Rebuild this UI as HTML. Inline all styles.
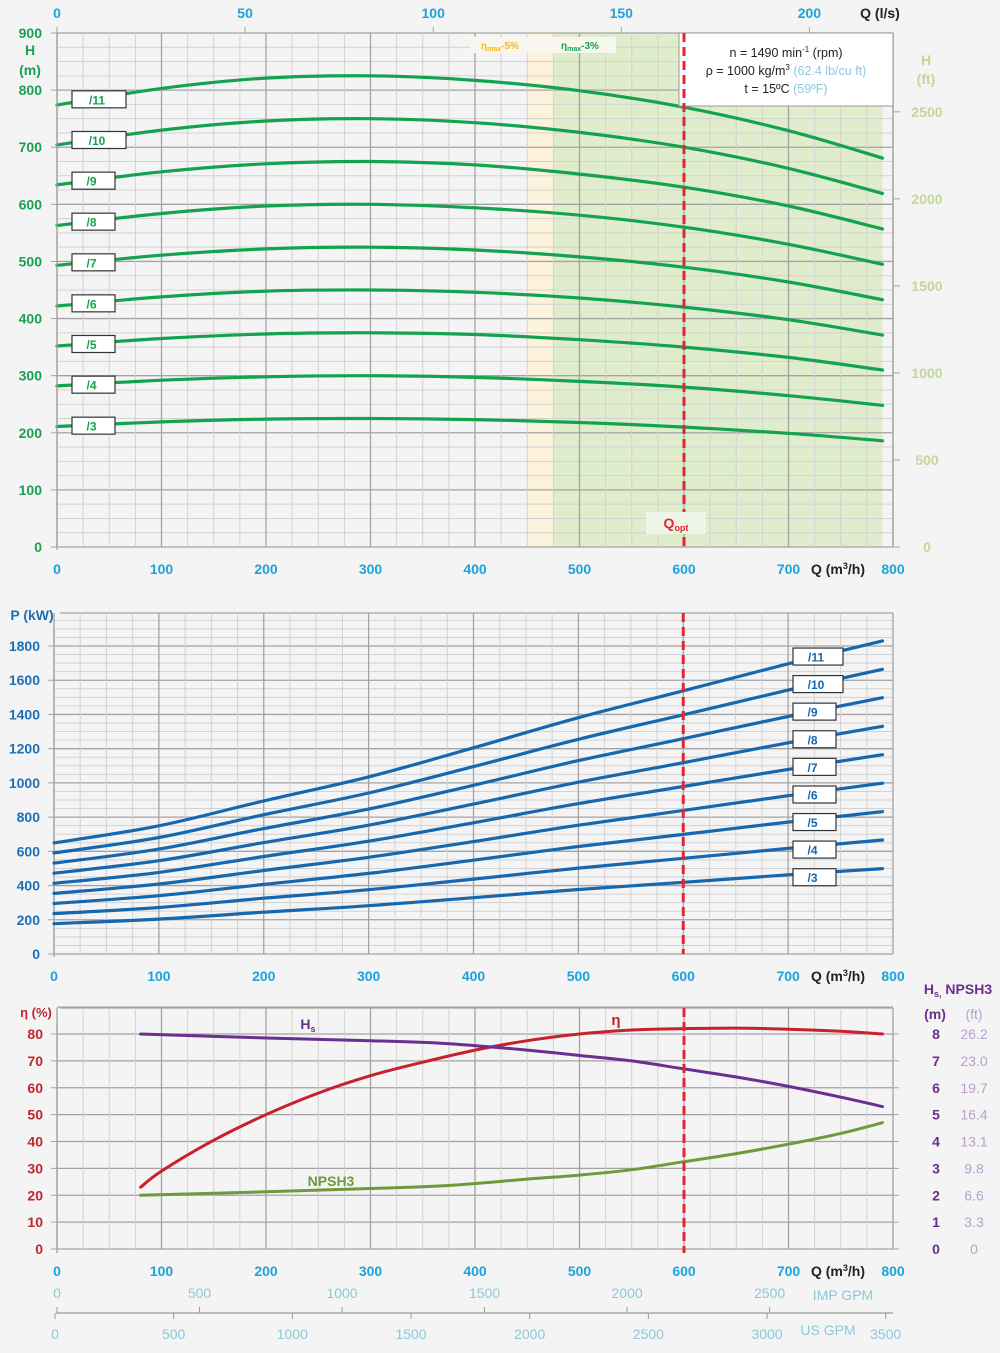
<!DOCTYPE html>
<html><head><meta charset="utf-8">
<style>
html,body{margin:0;padding:0;background:#f4f4f4;}
svg{display:block;font-family:"Liberation Sans",sans-serif;}
</style></head>
<body>
<svg id="c" width="1000" height="1353" viewBox="0 0 1000 1353" xmlns="http://www.w3.org/2000/svg">
<rect x="0" y="0" width="1000" height="1353" fill="#f4f4f4"/>
</svg>
<script>
// ---------- DATA ----------
const qPoints = [0,100,200,300,400,500,600,700,790];
const stages = [3,4,5,6,7,8,9,10,11];
const head3  = [211,219,224,225,223,218,210,199,186];
const head4  = [282,292,298,300,297,290,280,265,248];
const head5  = [352,365,373,375,372,363,350,332,310];
const head6  = [422,438,448,450,446,436,420,398,371];
const head7  = [493,511,522,525,520,508,490,464,433];
const head8  = [563,584,597,600,594,581,560,530,495];
const head9  = [634,657,671,675,669,653,630,597,557];
const head10 = [704,730,746,750,743,726,700,663,619];
const head11 = [774,803,821,825,817,799,770,729,681];
const power3  = [177,204,244,282,329,377,419,463,499];
const power4  = [236,272,326,376,438,502,559,617,666];
const power5  = [295,341,407,471,548,628,699,771,832];
const power6  = [354,409,488,565,657,753,839,925,998];
const power7  = [413,477,570,659,767,879,979,1079,1165];
const power8  = [472,545,651,753,876,1004,1118,1234,1331];
const power9  = [531,613,733,847,986,1130,1258,1388,1498];
const power10 = [590,681,814,941,1095,1255,1398,1542,1664];
const power11 = [649,749,895,1035,1205,1381,1538,1696,1830];
const effQ = [80,100,150,200,250,300,350,400,450,500,550,600,650,700,750,790];
const effVals = [23,29,40.5,50,58,64.5,69.5,74,77.5,80,81.5,82,82.2,81.8,81,80];
const npQ = [80,200,300,370,450,500,550,600,650,700,750,790];
const hsVals = [8.0,7.85,7.75,7.65,7.4,7.2,7.0,6.7,6.4,6.05,5.65,5.3];
const npshVals = [2.0,2.13,2.25,2.35,2.6,2.75,2.95,3.25,3.55,3.9,4.3,4.7];
const qTicks = [0,100,200,300,400,500,600,700,800];
const lsTicks = [0,50,100,150,200];
const hTicks = [0,100,200,300,400,500,600,700,800,900];
const ftTicks = [0,500,1000,1500,2000,2500];
const pTicks = [0,200,400,600,800,1000,1200,1400,1600,1800];
const etaTicks = [0,10,20,30,40,50,60,70,80];
const hsM = ['0','1','2','3','4','5','6','7','8'];
const hsFt = ['0','3.3','6.6','9.8','13.1','16.4','19.7','23.0','26.2'];
const igpmTicks = [0,500,1000,1500,2000,2500];
const usgpmTicks = [0,500,1000,1500,2000,2500,3000,3500];
const qOpt = 600;
const band5 = [450,475];
const band3 = [475,790];

const heads = [head3,head4,head5,head6,head7,head8,head9,head10,head11];
const powers = [power3,power4,power5,power6,power7,power8,power9,power10,power11];

// ---------- HELPERS ----------
const svg = document.getElementById('c');
const NS = 'http://www.w3.org/2000/svg';
function mk(tag, attrs, parent){
  const e = document.createElementNS(NS, tag);
  for (const k in attrs) e.setAttribute(k, attrs[k]);
  (parent||svg).appendChild(e);
  return e;
}
function txt(x,y,s,fill,size,anchor,parent,weight){
  const t = mk('text',{x:x,y:y,fill:fill,'font-size':size||14,'text-anchor':anchor||'middle','font-weight':weight||'bold'},parent);
  t.textContent = s;
  return t;
}
function smooth(pts){
  let d = 'M'+pts[0][0].toFixed(1)+','+pts[0][1].toFixed(1);
  for (let i=0;i<pts.length-1;i++){
    const p0=pts[Math.max(0,i-1)],p1=pts[i],p2=pts[i+1],p3=pts[Math.min(pts.length-1,i+2)];
    const c1x=p1[0]+(p2[0]-p0[0])/6,c1y=p1[1]+(p2[1]-p0[1])/6;
    const c2x=p2[0]-(p3[0]-p1[0])/6,c2y=p2[1]-(p3[1]-p1[1])/6;
    d+=' C'+c1x.toFixed(1)+','+c1y.toFixed(1)+' '+c2x.toFixed(1)+','+c2y.toFixed(1)+' '+p2[0].toFixed(1)+','+p2[1].toFixed(1);
  }
  return d;
}
function interp(xs,ys,x){
  for(let i=0;i<xs.length-1;i++){ if(x>=xs[i]&&x<=xs[i+1]){const t=(x-xs[i])/(xs[i+1]-xs[i]);return ys[i]+t*(ys[i+1]-ys[i]);} }
  return ys[ys.length-1];
}
function grid(g,x0,x1,y0,y1,sx,yMin,yMax,yMinor,yMajor){
  for(let q=0;q<=800;q+=25){
    const x=sx(q);
    const major = q%100===0;
    const l = mk('line',{x1:x,x2:x,y1:y0,y2:y1,stroke:major?'#a3a3a3':'#d2d2d2','stroke-width':major?1.3:1},g);
    
    
  }
  return;
}
function hgrid(g,x0,x1,sy,yMin,yMax,yMinor,yMajor){
  for(let v=yMin;v<=yMax+0.001;v+=yMinor){
    const y=sy(v);
    const major = Math.abs(v/yMajor-Math.round(v/yMajor))<1e-6;
    const l = mk('line',{x1:x0,x2:x1,y1:y,y2:y,stroke:major?'#a3a3a3':'#d2d2d2','stroke-width':major?1.3:1},g);
    
    
  }
}

// ---------- CHART 1: HEAD ----------
const c1x = q=>57+q*(836/800);
const c1y = h=>547-h*(514/900);
const g1 = mk('g',{});


// bands
const b5 = mk('rect',{x:c1x(band5[0]),y:33,width:c1x(band5[1])-c1x(band5[0]),height:514,fill:'#fdf3dc'},g1);


const b3 = mk('rect',{x:c1x(band3[0]),y:33,width:c1x(band3[1])-c1x(band3[0]),height:514,fill:'#dfedcc'},g1);


hgrid(g1,57,893,c1y,0,900,25,100);
grid(g1,57,893,33,547,c1x);
// top l/s ticks
lsTicks.forEach(v=>{
  const x=c1x(v*3.6);
  mk('line',{x1:x,x2:x,y1:27,y2:33,stroke:'#a3a3a3'},g1);
  const t=txt(x,18,String(v),'#1ca3dc',14,'middle',g1);
  
  
});
txt(880,18,'Q (l/s)','#222',14,'middle',g1);
// band label strip
mk('rect',{x:470,y:37,width:146,height:16,fill:'#f7f7f0'},g1);
const l5=mk('text',{x:500,y:49,fill:'#f5b820','font-size':10,'text-anchor':'middle','font-weight':'bold'},g1);
l5.innerHTML='η<tspan font-size="7" dy="2">max</tspan><tspan dy="-2">-5%</tspan>';

const l3=mk('text',{x:580,y:49,fill:'#1aa050','font-size':10,'text-anchor':'middle','font-weight':'bold'},g1);
l3.innerHTML='η<tspan font-size="7" dy="2">max</tspan><tspan dy="-2">-3%</tspan>';

// curves
heads.forEach((arr,i)=>{
  const p = mk('path',{d:smooth(qPoints.map((q,j)=>[c1x(q),c1y(arr[j])])),fill:'none',stroke:'#13a34f','stroke-width':3.2,'stroke-linecap':'round'},g1);
  
  
});
heads.forEach((arr,i)=>{
  const yc = c1y(interp(qPoints,arr,40))+1;
  const w = stages[i]>=10?54:43;
  const r = mk('rect',{x:72,y:yc-8.5,width:w,height:17,fill:'#fff',stroke:'#333','stroke-width':1.2},g1);
  
  
  const t = txt(72+w/2-2,yc+5,'/'+stages[i],'#13a34f',12,'middle',g1);
  
  
});
// frame axis lines
mk('line',{x1:57,x2:57,y1:33,y2:550,stroke:'#a3a3a3','stroke-width':1.3},g1);
mk('line',{x1:893,x2:893,y1:33,y2:547,stroke:'#a3a3a3','stroke-width':1.3},g1);
// y ticks
hTicks.forEach(v=>{
  const t=txt(42,c1y(v)+5,String(v),'#1aa050',14,'end',g1);
  
  
  mk('line',{x1:51,x2:57,y1:c1y(v),y2:c1y(v),stroke:'#a3a3a3'},g1);
});
txt(30,55,'H','#1aa050',14,'middle',g1);
txt(30,75,'(m)','#1aa050',14,'middle',g1);
ftTicks.forEach(v=>{
  const y=c1y(v*0.3048);
  mk('line',{x1:893,x2:900,y1:y,y2:y,stroke:'#a3a3a3'},g1);
  const t=txt(927,y+5,String(v),'#c3d69b',14,'middle',g1);
  
  
});
txt(926,65,'H','#c3d69b',14,'middle',g1);
txt(926,84,'(ft)','#c3d69b',14,'middle',g1);
qTicks.forEach(v=>{
  const t=txt(c1x(v),574,String(v),'#1ca3dc',14,'middle',g1);
  
  
});
// info box
const ib=mk('rect',{x:679,y:33,width:214,height:73,fill:'#fff',stroke:'#999','stroke-width':1},g1);


let t1=mk('text',{x:786,y:57,'font-size':12.5,'text-anchor':'middle',fill:'#222'},g1);
t1.innerHTML='n = 1490 min<tspan font-size="8" dy="-5">-1</tspan><tspan dy="5"> (rpm)</tspan>';
let t2=mk('text',{x:786,y:75,'font-size':12.5,'text-anchor':'middle',fill:'#222'},g1);
t2.innerHTML='ρ = 1000 kg/m<tspan font-size="8" dy="-5">3</tspan><tspan dy="5" fill="#8cc8e0"> (62.4 lb/cu ft)</tspan>';
let t3=mk('text',{x:786,y:93,'font-size':12.5,'text-anchor':'middle',fill:'#222'},g1);
t3.innerHTML='t = 15ºC <tspan fill="#8cc8e0">(59ºF)</tspan>';

// ---------- CHART 2: POWER ----------
const c2x = q=>54+q*(839/800);
const c2y = p=>954-p*(308/1800);
const g2 = mk('g',{});


hgrid(g2,54,893,c2y,0,1950,50,200);
mk('line',{x1:60,x2:893,y1:613,y2:613,stroke:'#a3a3a3','stroke-width':1.3},g2);
(function(){for(let q=0;q<=800;q+=25){const x=c2x(q);const m=q%100===0;mk('line',{x1:x,x2:x,y1:613,y2:954,stroke:m?'#a3a3a3':'#d2d2d2','stroke-width':m?1.3:1},g2);}})();
mk('line',{x1:54,x2:54,y1:628,y2:957,stroke:'#a3a3a3','stroke-width':1.3},g2);
pTicks.forEach(v=>{
  const t=txt(40,c2y(v)+5,String(v),'#1f6fb4',14,'end',g2);
  
  
  mk('line',{x1:48,x2:54,y1:c2y(v),y2:c2y(v),stroke:'#a3a3a3'},g2);
});
txt(32,620,'P (kW)','#1f6fb4',14,'middle',g2);
qTicks.forEach(v=>{
  const t=txt(c2x(v),981,String(v),'#1ca3dc',14,'middle',g2);
  
  
});
powers.forEach((arr,i)=>{
  const p = mk('path',{d:smooth(qPoints.map((q,j)=>[c2x(q),c2y(arr[j])])),fill:'none',stroke:'#1667ad','stroke-width':3.2,'stroke-linecap':'round'},g2);
  
  
});
powers.forEach((arr,i)=>{
  const yc = c2y(interp(qPoints,arr,752))+6;
  const w = stages[i]>=10?50:43;
  const r = mk('rect',{x:793,y:yc-8.5,width:w,height:17,fill:'#fff',stroke:'#333','stroke-width':1.2},g2);
  
  
  const t = txt(793+w/2-2,yc+5,'/'+stages[i],'#1667ad',12,'middle',g2);
  
  
});

// ---------- CHART 3: EFFICIENCY / NPSH ----------
const c3x = q=>57+q*(836/800);
const c3y = e=>1249-e*(215/80);
const g3 = mk('g',{});


hgrid(g3,57,893,c3y,0,90,10,10);
mk('line',{x1:60,x2:893,y1:1008,y2:1008,stroke:'#a3a3a3','stroke-width':1.3},g3);
(function(){for(let q=0;q<=800;q+=25){const x=c3x(q);const m=q%100===0;mk('line',{x1:x,x2:x,y1:1008,y2:1249,stroke:m?'#a3a3a3':'#d2d2d2','stroke-width':m?1.3:1},g3);}})();
mk('line',{x1:57,x2:57,y1:1024,y2:1253,stroke:'#a3a3a3','stroke-width':1.3},g3);
etaTicks.forEach((v,i)=>{
  const y=c3y(v);
  const t=txt(43,y+5,String(v),'#c0272d',14,'end',g3);
  
  
  mk('line',{x1:51,x2:57,y1:y,y2:y,stroke:'#a3a3a3'},g3);
  mk('line',{x1:893,x2:899,y1:y,y2:y,stroke:'#a3a3a3'},g3);
  const a=txt(936,y+5,hsM[i],'#6a2f8f',14,'middle',g3);
  
  
  const b=txt(974,y+5,hsFt[i],'#b9a0cc',14,'middle',g3,'normal');
  
  
});
txt(36,1017,'η (%)','#c0272d',13,'middle',g3);
let hst=mk('text',{x:958,y:994,'font-size':14,'text-anchor':'middle',fill:'#6a2f8f','font-weight':'bold'},g3);
hst.innerHTML='H<tspan font-size="9" dy="3">s,</tspan><tspan dy="-3"> NPSH3</tspan>';

txt(935,1019,'(m)','#6a2f8f',14,'middle',g3);
txt(974,1019,'(ft)','#b9a0cc',14,'middle',g3,'normal');
qTicks.forEach(v=>{
  const t=txt(c3x(v),1276,String(v),'#1ca3dc',14,'middle',g3);
  
  
});
// GPM axes
igpmTicks.forEach(v=>{
  const x=c3x(v*0.272765);
  const t=txt(x,1298,String(v),'#8cc8d8',14,'middle',g3,'normal');
  
  
  mk('line',{x1:x,x2:x,y1:1307,y2:1313,stroke:'#999'},g3);
});
txt(843,1300,'IMP GPM','#8cc8d8',14,'middle',g3,'normal');
mk('line',{x1:56,x2:893,y1:1313,y2:1313,stroke:'#999','stroke-width':1.2},g3);
usgpmTicks.forEach(v=>{
  const x=c3x(v*0.227125)-2;
  const t=txt(x,1339,String(v),'#8cc8d8',14,'middle',g3,'normal');
  
  
  mk('line',{x1:x,x2:x,y1:1313,y2:1319,stroke:'#999'},g3);
});
txt(828,1335,'US GPM','#8cc8d8',14,'middle',g3,'normal');
// curves
const ce=mk('path',{d:smooth(effQ.map((q,j)=>[c3x(q),c3y(effVals[j])])),fill:'none',stroke:'#c8202e','stroke-width':3,'stroke-linecap':'round'},g3);


const ch=mk('path',{d:smooth(npQ.map((q,j)=>[c3x(q),c3y(hsVals[j]*10)])),fill:'none',stroke:'#6a2f8f','stroke-width':3,'stroke-linecap':'round'},g3);


const cn=mk('path',{d:smooth(npQ.map((q,j)=>[c3x(q),c3y(npshVals[j]*10)])),fill:'none',stroke:'#6e9a3c','stroke-width':3,'stroke-linecap':'round'},g3);


let hl=mk('text',{x:308,y:1029,'font-size':14,'text-anchor':'middle',fill:'#6a2f8f','font-weight':'bold'},g3);
hl.innerHTML='H<tspan font-size="9" dy="3">s</tspan>';

txt(616,1025,'η','#c8202e',15,'middle',g3);
txt(331,1186,'NPSH3','#6e9a3c',14,'middle',g3);

// ---------- Q-axis titles ----------
[[574],[981],[1276]].forEach(a=>{
  const t=mk('text',{x:838,y:a[0],'font-size':14,'text-anchor':'middle',fill:'#222','font-weight':'bold'});
  t.innerHTML='Q (m<tspan font-size="9" dy="-5">3</tspan><tspan dy="5">/h)</tspan>';
  
  
});

// ---------- Qopt line ----------
[[33,547,c1x],[613,954,c2x],[1008,1253,c3x]].forEach(s=>{
  const x=s[2](qOpt);
  const l=mk('line',{x1:x,x2:x,y1:s[0],y2:s[1],stroke:'#e3262f','stroke-width':3,'stroke-dasharray':'9,5'});
  
  
});
const qb=mk('rect',{x:646,y:512,width:60,height:22,fill:'#eef4e6'});


const ql=mk('text',{x:676,y:528,'font-size':14,'text-anchor':'middle',fill:'#e3262f','font-weight':'bold'});
ql.innerHTML='Q<tspan font-size="9" dy="3">opt</tspan>';


</script>
</body></html>
